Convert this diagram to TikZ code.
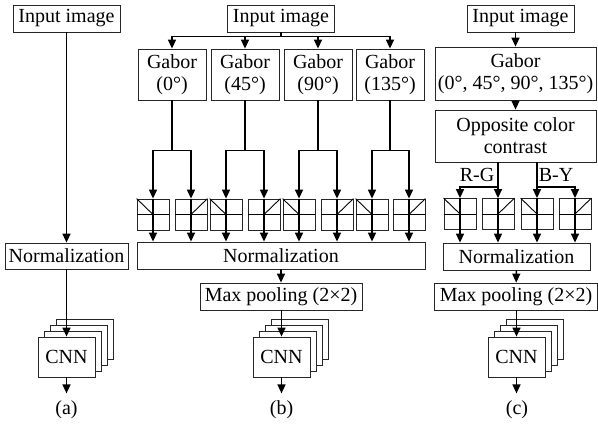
\documentclass[tikz,border=0pt]{standalone}
\usepackage{fontspec}
\setmainfont{Liberation Serif}
\usetikzlibrary{arrows.meta,positioning}

\begin{document}
\begin{tikzpicture}[x=1pt,y=-1pt,
box/.style={draw=black!85,line width=.8pt,inner sep=0pt,align=center,font=\fontsize{20}{22}\selectfont},
sqbox/.style={draw=black!85,line width=.8pt,minimum width=32pt,minimum height=31pt,inner sep=0pt},
cnnbox/.style={box,fill=white,minimum width=57pt,minimum height=40pt},
lbl/.style={inner sep=0pt,font=\fontsize{20}{22}\selectfont},
arr/.style={line width=1.5pt,-{Triangle[length=9pt,width=8pt]}},
ln/.style={line width=1.5pt},
thn/.style={line width=.9pt}]
\useasboundingbox (0,0) rectangle (598,426);

% (a)
\node[box,minimum width=107pt,minimum height=27pt] (inA) at (66.5,18.5) {Input image};
\node[box,minimum width=123pt,minimum height=26pt] (normA) at (66.5,256) {Normalization};
\foreach \k in {3,2,1}
  \node[cnnbox,xshift={6pt*\k},yshift={6pt*\k}] (cA\k) at (66.5,357) {};
\node[cnnbox] (cnnA) at (66.5,357) {CNN};
\draw[arr] (inA) -- (normA);
\draw[arr] (normA) -- (cnnA);
\draw[arr] (cnnA.south) -- ++(0,16);
\node[lbl] (la) at (66.5,410) {(a)};

% (b)
\node[box,minimum width=107pt,minimum height=27pt] (inB) at (281,18.5) {Input image};
\foreach \x/\a [count=\i] in {172/0,245/45,318/90,390/135}
  \node[box,minimum width=68pt,minimum height=51pt] (gB\i) at (\x,74.5) {Gabor\\(\a°)};
\node[box,minimum width=288pt,minimum height=27pt] (normB) at (281,255.5) {Normalization};
\node[box,minimum width=162pt,minimum height=27pt] (maxB) at (281,296.5) {Max pooling (2×2)};
\foreach \x [count=\i] in {153,191,226,264,299,337,372,409} {
  \node[sqbox] (sqB\i) at (\x,214.5) {};
  \draw[thn] (sqB\i.west) -- (sqB\i.east);
  \ifodd\i \draw[thn] (sqB\i.north west) -- (sqB\i.center);
  \else \draw[thn] (sqB\i.north east) -- (sqB\i.center); \fi
  \draw[ln] (sqB\i.north) -- (sqB\i.south);
  \draw[arr] (sqB\i.south) -- (sqB\i.south |- normB.north);
}
\draw[ln] (inB.south) -- ++(0,4) coordinate (jB);
\foreach \i in {1,...,4}
  \draw[arr] (jB) -| (gB\i.north);
\foreach \i/\a/\b in {1/1/2,2/3/4,3/5/6,4/7/8} {
  \draw[ln] (gB\i.south) -- ++(0,50) coordinate (kB\i);
  \draw[arr] (kB\i) -| (sqB\a.north);
  \draw[arr] (kB\i) -| (sqB\b.north);
}
\foreach \k in {3,2,1}
  \node[cnnbox,xshift={6pt*\k},yshift={6pt*\k}] (cB\k) at (281.5,357) {};
\node[cnnbox] (cnnB) at (281.5,357) {CNN};
\draw[arr] (normB) -- (maxB);
\draw[arr] (maxB.south -| cnnB.north) -- (cnnB.north);
\draw[arr] (cnnB.south) -- ++(0,16);
\node[lbl] (lb) at (281.5,410) {(b)};

% (c)
\node[box,minimum width=107pt,minimum height=27pt] (inC) at (520.5,18.5) {Input image};
\node[box,minimum width=161pt,minimum height=53pt] (gabC) at (515.5,73.5) {Gabor\\(0°, 45°, 90°, 135°)};
\node[box,minimum width=161pt,minimum height=52pt] (oppC) at (515.5,136) {Opposite color\\contrast};
\node[box,minimum width=147pt,minimum height=27pt] (normC) at (516.5,256.5) {Normalization};
\node[box,minimum width=163pt,minimum height=27pt] (maxC) at (516,296.5) {Max pooling (2×2)};
\foreach \x [count=\i] in {460,498,537,575} {
  \node[sqbox] (sqC\i) at (\x,214) {};
  \draw[thn] (sqC\i.west) -- (sqC\i.east);
  \ifodd\i \draw[thn] (sqC\i.north west) -- (sqC\i.center);
  \else \draw[thn] (sqC\i.north east) -- (sqC\i.center); \fi
  \draw[ln] (sqC\i.north) -- (sqC\i.south);
  \draw[arr] (sqC\i.south) -- (sqC\i.south |- normC.north);
}
\draw[arr] (gabC.north |- inC.south) -- (gabC.north);
\draw[arr] (gabC) -- (oppC);
\coordinate (rg) at (498,187);
\coordinate (by) at (537,187);
\draw[ln] (rg |- oppC.south) -- (rg);
\draw[ln] (by |- oppC.south) -- (by);
\draw[arr] (rg) -| (sqC1.north);
\draw[arr] (rg) -- (sqC2.north);
\draw[arr] (by) -- (sqC3.north);
\draw[arr] (by) -| (sqC4.north);
\node[lbl] (rgL) at (477,175) {R-G};
\node[lbl] (byL) at (556,175) {B-Y};
\foreach \k in {3,2,1}
  \node[cnnbox,xshift={6pt*\k},yshift={6pt*\k}] (cC\k) at (516.5,357) {};
\node[cnnbox] (cnnC) at (516.5,357) {CNN};
\draw[arr] (normC) -- (maxC);
\draw[arr] (maxC.south -| cnnC.north) -- (cnnC.north);
\draw[arr] (cnnC.south) -- ++(0,16);
\node[lbl] (lc) at (517,410) {(c)};
\end{tikzpicture}
\end{document}
